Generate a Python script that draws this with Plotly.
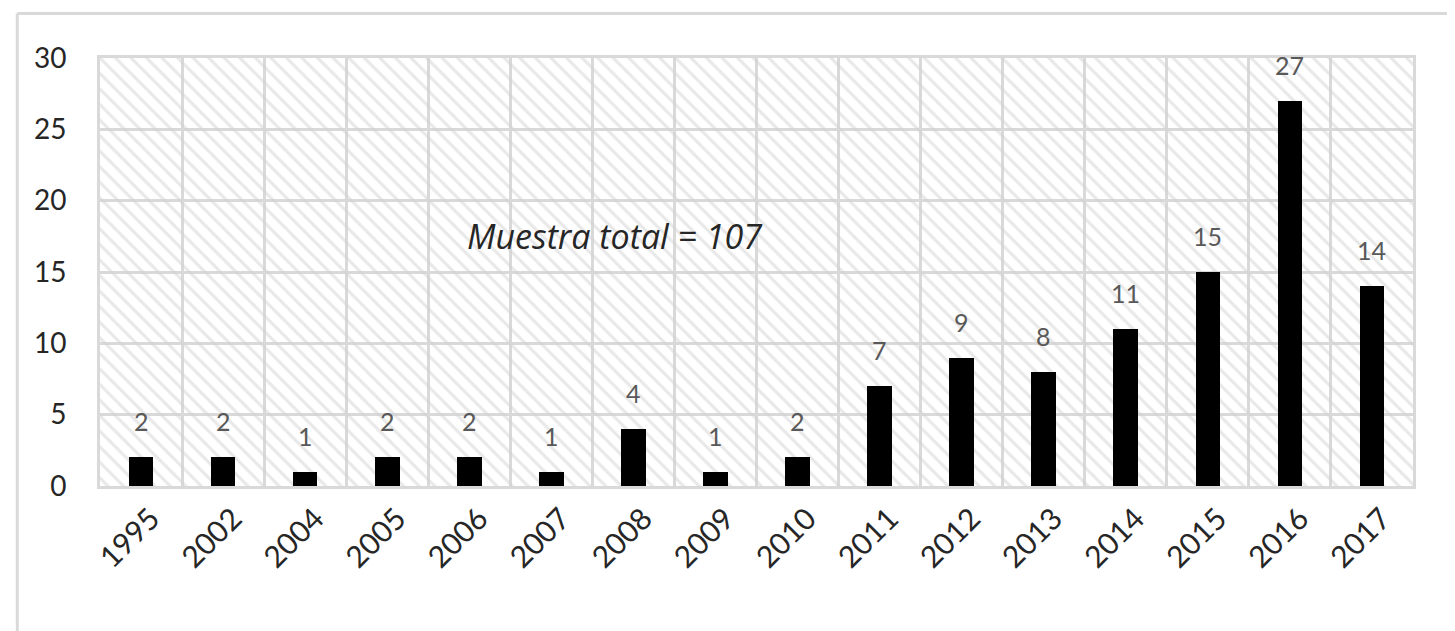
import plotly.graph_objects as go

years = ["1995", "2002", "2004", "2005", "2006", "2007", "2008", "2009",
         "2010", "2011", "2012", "2013", "2014", "2015", "2016", "2017"]
counts = [2, 2, 1, 2, 2, 1, 4, 1, 2, 7, 9, 8, 11, 15, 27, 14]
y_ticks = [0, 5, 10, 15, 20, 25, 30]
note_text = "Muestra total = 107"

n = len(years)
xs = list(range(n))
y_max = y_ticks[-1]
GRID = "#d9d9d9"
FONT = "Lato"

fig = go.Figure()

# hatched background of the plot area
fig.add_trace(go.Bar(
    x=[(n - 1) / 2], y=[y_max], width=[n],
    marker=dict(color="rgba(0,0,0,0)", line=dict(width=0),
                pattern=dict(shape="\\", fgcolor="#d2d2d2", bgcolor="rgba(0,0,0,0)",
                             size=11, solidity=0.28)),
    hoverinfo="skip", showlegend=False))

# data bars
fig.add_trace(go.Bar(
    x=xs, y=counts, width=0.3,
    marker=dict(color="black", line=dict(width=0)),
    showlegend=False))

for i, v in zip(xs, counts):
    fig.add_annotation(x=i, y=v, text=str(v), showarrow=False,
                       yanchor="bottom", yshift=19,
                       font=dict(family=FONT, size=25, color="#595959"))

fig.add_annotation(x=5.78, y=17.5, text="<i>" + note_text + "</i>", showarrow=False,
                   font=dict(family="Open Sans", size=34, color="#262626"))

# outer frame (left and top visible)
fig.add_shape(type="line", xref="paper", yref="paper",
              x0=-0.063, x1=-0.063, y0=-0.5, y1=1.104,
              line=dict(color=GRID, width=3))
fig.add_shape(type="line", xref="paper", yref="paper",
              x0=-0.063, x1=1.2, y0=1.104, y1=1.104,
              line=dict(color=GRID, width=3))

fig.update_layout(
    width=1455, height=631,
    margin=dict(l=92, r=50, t=50, b=153),
    paper_bgcolor="white", plot_bgcolor="white",
    barmode="overlay", bargap=0,
    font=dict(family=FONT, color="#262626"),
    xaxis=dict(
        range=[-0.5, n - 0.5], tickmode="array", tickvals=xs, ticktext=years,
        tickangle=-45, showgrid=False, zeroline=False,
        showline=True, mirror=True, linecolor=GRID, linewidth=3,
        ticks="", ticklabelstandoff=0, ticklabelshift=10,
        tickfont=dict(family=FONT, size=30, color="#262626"),
        minor=dict(tickmode="array", tickvals=[i - 0.5 for i in range(n + 1)],
                   showgrid=True, gridcolor=GRID, gridwidth=3, ticks=""),
    ),
    yaxis=dict(
        range=[0, y_max], tickmode="array", tickvals=y_ticks,
        showgrid=True, gridcolor=GRID, gridwidth=3, zeroline=False,
        showline=True, mirror=True, linecolor=GRID, linewidth=3,
        ticks="", ticklabelstandoff=25,
        tickfont=dict(family=FONT, size=28, color="#262626"),
    ),
)

fig.write_html("out.html")
